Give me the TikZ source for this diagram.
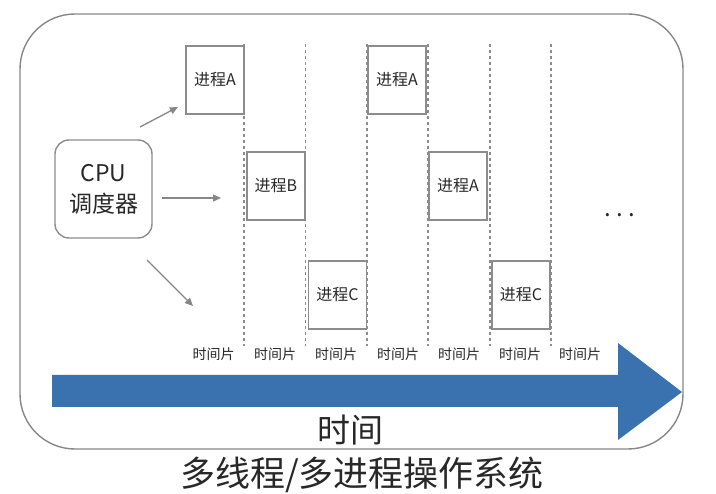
\documentclass[tikz,border=0pt]{standalone}
\usepackage{fontspec}
\setmainfont{Noto Sans CJK SC}
\usetikzlibrary{arrows.meta}
\definecolor{framegray}{RGB}{135,135,135}
\definecolor{boxgray}{RGB}{140,140,140}
\definecolor{dashgray}{RGB}{140,140,140}
\definecolor{timeblue}{RGB}{58,114,176}
\definecolor{ink}{RGB}{40,40,40}

\begin{document}
\begin{tikzpicture}[x=1pt,y=-1pt,
  frame/.style={draw=framegray, line width=1.4pt, rounded corners=55pt},
  proc/.style={draw=boxgray, line width=1.6pt, minimum width=58pt,
    minimum height=68pt, inner sep=0pt, text=ink,
    font=\fontsize{16}{16}\selectfont},
  sched/.style={draw=boxgray, line width=1.4pt, rounded corners=14pt,
    minimum width=97pt, minimum height=98pt, inner sep=0pt, text=ink,
    align=center, font=\fontsize{23}{31}\selectfont},
  sendarrow/.style={draw=framegray, line width=1.3pt,
    -{Triangle[length=8pt,width=7pt]}},
  slotline/.style={draw=dashgray, line width=1.5pt, dash pattern=on 3pt off 3pt},
  slotlabel/.style={text=ink, inner sep=0pt, font=\fontsize{14}{14}\selectfont},
]
\useasboundingbox (0,0) rectangle (716,494);

% outer frame
\draw[frame] (20,14) rectangle (683,449);

% time slot separators
\foreach \x in {244,305.5,367,428,490,551}
  \draw[slotline] (\x,44) -- (\x,346);

% scheduler and processes
\node[sched] (cpu) at (103.5,189) {CPU\\调度器};
\node[proc] (a1) at (215,80) {进程A};
\node[proc] (b1) at (276,186) {进程B};
\node[proc] (c1) at (337.5,295) {进程C};
\node[proc] (a2) at (397,80) {进程A};
\node[proc] (a3) at (458,186) {进程A};
\node[proc] (c2) at (521,295) {进程C};

% dispatch arrows
\coordinate (upS) at (140,127);
\coordinate (upE) at (178,107);
\coordinate (midS) at (162,198);
\coordinate (midE) at (221,198);
\coordinate (lowS) at (147,260);
\coordinate (lowE) at (193,306);
\draw[sendarrow] (upS) -- (upE);
\draw[sendarrow] (midS) -- (midE);
\draw[sendarrow] (lowS) -- (lowE);

% continuation dots
\node[text=ink, font=\fontsize{24}{24}\selectfont] (more) at (620,215)
  {.\hspace{5pt}.\hspace{5pt}.};

% time slice labels
\foreach \x [count=\i] in {213.5,275,336,398,459,520,580}
  \node[slotlabel] (slot\i) at (\x,354) {时间片};

% time axis
\fill[timeblue] (52,375) -- (618,375) -- (618,343) -- (682,392)
  -- (618,440) -- (618,407) -- (52,407) -- cycle;
\node[text=ink, font=\fontsize{33}{33}\selectfont] (time) at (350,430) {时间};

% caption
\node[text=ink, font=\fontsize{35}{35}\selectfont] (caption) at (362,475) {多线程/多进程操作系统};
\end{tikzpicture}
\end{document}
